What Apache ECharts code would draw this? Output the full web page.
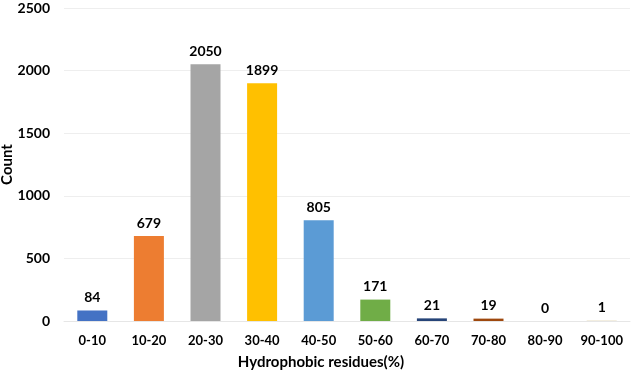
<!DOCTYPE html>
<html>
<head>
<meta charset="utf-8">
<script src="https://cdn.jsdelivr.net/npm/echarts@6/dist/echarts.min.js"></script>
<style>
  html, body { margin: 0; padding: 0; background: #fff; }
  #chart { width: 632px; height: 373px; }
</style>
</head>
<body>
<div id="chart"></div>
<script>
// Données
const categories = ["0-10", "10-20", "20-30", "30-40", "40-50", "50-60", "60-70", "70-80", "80-90", "90-100"];
const counts = [84, 679, 2050, 1899, 805, 171, 21, 19, 0, 1];
const barColors = ["#4472C4", "#ED7D31", "#A5A5A5", "#FFC000", "#5B9BD5", "#70AD47", "#264478", "#9E480E", "#636363", "#997300"];

const font = "Lato, 'Open Sans', sans-serif";

const chart = echarts.init(document.getElementById("chart"));

chart.setOption({
  animation: false,
  grid: { left: 64, right: 2, top: 8, bottom: 52, outerBoundsMode: "none" },
  xAxis: {
    type: "category",
    data: categories,
    name: "Hydrophobic residues(%)",
    nameLocation: "middle",
    nameGap: 34,
    // décalé vers la gauche comme sur l'original (centré sur la figure)
    nameTextStyle: { fontFamily: font, fontWeight: "bold", fontSize: 15, color: "#000", padding: [0, 52, 0, 0] },
    axisLine: { lineStyle: { color: "#e6e6e6" } },
    axisTick: { show: false },
    axisLabel: { interval: 0, fontFamily: font, fontWeight: "bold", fontSize: 13, color: "#000", margin: 13 }
  },
  yAxis: {
    type: "value",
    min: 0,
    max: 2500,
    interval: 500,
    name: "Count",
    nameLocation: "middle",
    nameGap: 49,
    nameMoveOverlap: false,
    nameTextStyle: { fontFamily: font, fontWeight: "bold", fontSize: 15, color: "#000" },
    axisLine: { show: false },
    axisTick: { show: false },
    splitLine: { lineStyle: { color: "#eeeeee" } },
    axisLabel: { fontFamily: font, fontWeight: "bold", fontSize: 14, color: "#000", margin: 14, formatter: (v) => String(v) }
  },
  series: [{
    type: "bar",
    barWidth: "53%",
    data: counts.map((v, i) => ({ value: v, itemStyle: { color: barColors[i] } })),
    label: {
      show: true,
      position: "top",
      distance: 6,
      fontFamily: font,
      fontWeight: "bold",
      fontSize: 14,
      color: "#000"
    }
  }]
});
</script>
</body>
</html>
